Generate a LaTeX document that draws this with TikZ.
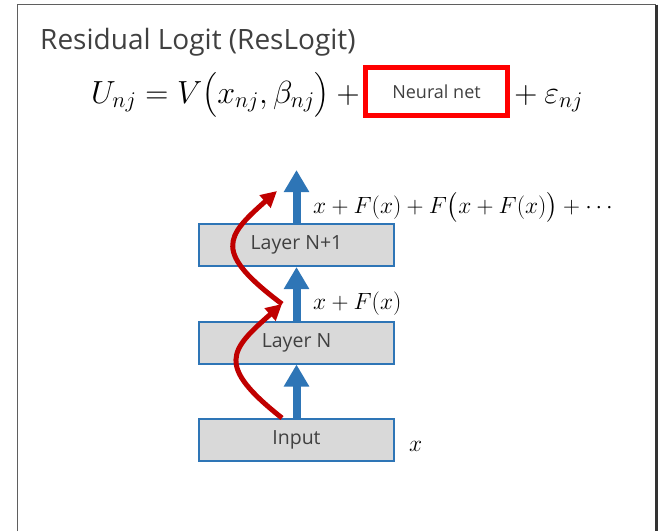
\RequirePackage{fix-cm}
\documentclass[tikz,border=0pt]{standalone}
\usepackage{amsmath}
\usepackage[no-math]{fontspec}
\setmainfont{Open Sans}
\usetikzlibrary{arrows.meta,positioning}
\definecolor{boxblue}{RGB}{46,117,182}
\definecolor{boxgray}{RGB}{217,217,217}
\definecolor{resred}{RGB}{192,0,0}
\definecolor{netred}{RGB}{255,0,0}
\definecolor{framegray}{RGB}{95,95,95}
\definecolor{txtgray}{RGB}{64,64,64}

\begin{document}
\begin{tikzpicture}[x=1pt, y=-1pt,
  layerbox/.style={draw=boxblue, line width=2pt, fill=boxgray,
    minimum width=195pt, minimum height=42pt, inner sep=0pt,
    font=\fontsize{19.5}{22}\selectfont, text=txtgray},
  uparrow/.style={boxblue, line width=8pt, -{Triangle[length=22pt,width=24pt]}},
  skiparrow/.style={resred, line width=5pt, -{Triangle[length=16pt,width=16pt]}},
  mathlbl/.style={font=\fontsize{23.5}{28}\selectfont, inner sep=0pt},
  eqpart/.style={font=\fontsize{32}{38}\selectfont, inner sep=0pt,
    text height=22pt, text depth=8pt}]

  \useasboundingbox (0,0) rectangle (662,531);

  %% -- Slide frame ---------------------------------------------------
  \draw[framegray, line width=1.5pt] (17.5,531) -- (17.5,4.5) -- (656,4.5);
  \draw[black!80, line width=3pt] (656,4.5) -- (656,531);

  %% -- Title and utility equation ------------------------------------
  \node[anchor=base west, inner sep=0pt, text=txtgray,
    font=\fontsize{28}{32}\selectfont] (title) at (40,49)
    {Residual Logit (ResLogit)};

  \node[draw=netred, line width=5pt, minimum width=142pt, minimum height=48pt,
    inner sep=0pt, text=txtgray, font=\fontsize{18}{22}\selectfont]
    (net) at (436.5,91.5) {Neural net};

  \node[eqpart, anchor=base east] (lhs) at (367,103)
    {$U_{nj}=V\bigl(x_{nj},\beta_{nj}\bigr)+{}$};
  \node[eqpart, anchor=base west] (rhs) at (507,103)
    {${}+\varepsilon_{nj}$};

  %% -- Layer stack ---------------------------------------------------
  \node[layerbox] (inp)   at (296.5,440)   {Input};
  \node[layerbox] (layn)  at (296.5,342.5) {Layer N};
  \node[layerbox] (layn1) at (296.5,245)   {Layer N+1};
  \coordinate (outtop) at (296.5,170);

  \draw[uparrow] (inp.north)   -- (layn.south);
  \draw[uparrow] (layn.north)  -- (layn1.south);
  \draw[uparrow] (layn1.north) -- (outtop);

  %% -- Outputs -------------------------------------------------------
  \node[mathlbl, anchor=base west] (out0) at (409,451) {$x$};
  \node[mathlbl, anchor=base west] (out1) at (313,309) {$x+F(x)$};
  \node[mathlbl, anchor=base west] (out2) at (313,213)
    {$x+F(x)+F\bigl(x+F(x)\bigr)+\cdots$};

  %% -- Skip connections ----------------------------------------------
  \coordinate (skip0) at (282,418);
  \coordinate (skip1) at (282,304);
  \coordinate (skip2) at (277,191);
  \draw[skiparrow] (skip0) .. controls (215,365) and (230,350) .. (skip1);
  \draw[skiparrow] (skip1) .. controls (213,252) and (225,237) .. (skip2);

\end{tikzpicture}
\end{document}
